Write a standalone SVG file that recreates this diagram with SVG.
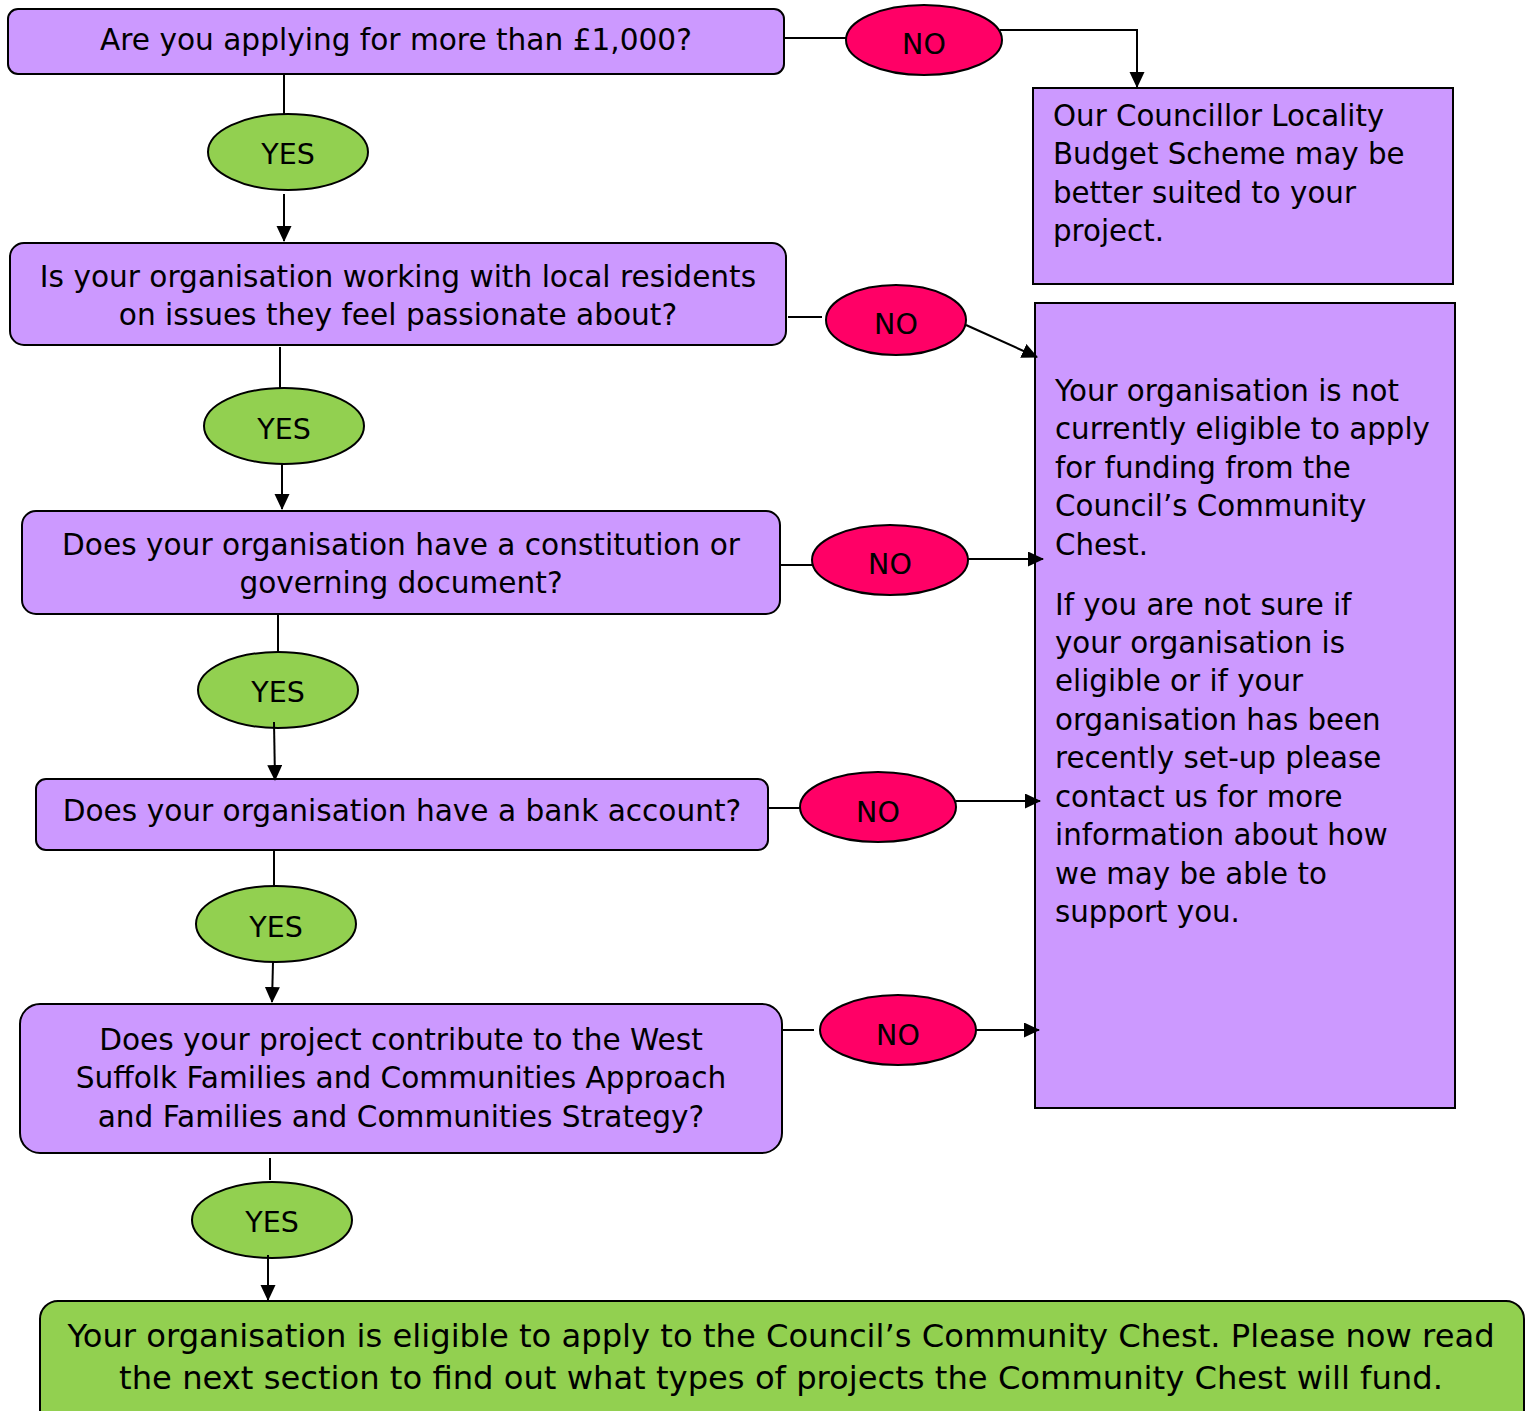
<svg xmlns="http://www.w3.org/2000/svg" width="1530" height="1411" viewBox="0 0 1530 1411">
<defs>
<marker id="ah" markerWidth="16" markerHeight="16" refX="15" refY="7.5" orient="auto" markerUnits="userSpaceOnUse">
<path d="M0,0 L16,7.5 L0,15 Z" fill="#000"/>
</marker>
<style>
.q{fill:#CC99FF;stroke:#000;stroke-width:2}
.no{fill:#FF0066;stroke:#000;stroke-width:2}
.yes{fill:#92D050;stroke:#000;stroke-width:2}
.fin{fill:#92D050;stroke:#000;stroke-width:2}
text{font-family:"DejaVu Sans","Verdana",sans-serif;font-size:29.6px;fill:#000}
.c{text-anchor:middle}
.e{font-size:28.5px}
.r{font-size:29.3px}
.big{font-size:32.2px}
.cn path{stroke:#000;stroke-width:2;fill:none}
.ar{marker-end:url(#ah)}
</style>
</defs>
<rect width="1530" height="1411" fill="#fff"/>

<g id="q1"><rect class="q" x="8" y="9" width="776" height="65" rx="10"/>
<text class="c" x="396" y="50">Are you applying for more than £1,000?</text></g>

<g id="q2"><rect class="q" x="10" y="243" width="776" height="102" rx="14"/>
<text class="c" x="398" y="287">Is your organisation working with local residents</text>
<text class="c" x="398" y="325">on issues they feel passionate about?</text></g>

<g id="q3"><rect class="q" x="22" y="511" width="758" height="103" rx="14"/>
<text class="c" x="401" y="555">Does your organisation have a constitution or</text>
<text class="c" x="401" y="593">governing document?</text></g>

<g id="q4"><rect class="q" x="36" y="779" width="732" height="71" rx="10"/>
<text class="c" x="402" y="821">Does your organisation have a bank account?</text></g>

<g id="q5"><rect class="q" x="20" y="1004" width="762" height="149" rx="20"/>
<text class="c" x="401" y="1050">Does your project contribute to the West</text>
<text class="c" x="401" y="1088">Suffolk Families and Communities Approach</text>
<text class="c" x="401" y="1127">and Families and Communities Strategy?</text></g>

<g id="result"><rect class="fin" x="40" y="1301" width="1484" height="130" rx="18"/>
<text class="c big" x="781" y="1347">Your organisation is eligible to apply to the Council’s Community Chest. Please now read</text>
<text class="c big" x="781" y="1389">the next section to find out what types of projects the Community Chest will fund.</text></g>

<g id="locality"><rect class="q" x="1033" y="88" width="420" height="196"/>
<text class="r" x="1053" y="126">Our Councillor Locality</text>
<text class="r" x="1053" y="164">Budget Scheme may be</text>
<text class="r" x="1053" y="203">better suited to your</text>
<text class="r" x="1053" y="241">project.</text></g>

<g id="noteligible"><rect class="q" x="1035" y="303" width="420" height="805"/>
<text class="r" x="1055" y="401">Your organisation is not</text>
<text class="r" x="1055" y="439">currently eligible to apply</text>
<text class="r" x="1055" y="478">for funding from the</text>
<text class="r" x="1055" y="516">Council’s Community</text>
<text class="r" x="1055" y="555">Chest.</text>
<text class="r" x="1055" y="615">If you are not sure if</text>
<text class="r" x="1055" y="653">your organisation is</text>
<text class="r" x="1055" y="691">eligible or if your</text>
<text class="r" x="1055" y="730">organisation has been</text>
<text class="r" x="1055" y="768">recently set-up please</text>
<text class="r" x="1055" y="807">contact us for more</text>
<text class="r" x="1055" y="845">information about how</text>
<text class="r" x="1055" y="884">we may be able to</text>
<text class="r" x="1055" y="922">support you.</text></g>

<g id="no1"><ellipse class="no" cx="924" cy="40" rx="78" ry="35"/><text class="c e" x="924" y="54">NO</text></g>
<g id="yes1"><ellipse class="yes" cx="288" cy="152" rx="80" ry="38"/><text class="c e" x="288" y="164">YES</text></g>
<g id="no2"><ellipse class="no" cx="896" cy="320" rx="70" ry="35"/><text class="c e" x="896" y="334">NO</text></g>
<g id="yes2"><ellipse class="yes" cx="284" cy="426" rx="80" ry="38"/><text class="c e" x="284" y="439">YES</text></g>
<g id="no3"><ellipse class="no" cx="890" cy="560" rx="78" ry="35"/><text class="c e" x="890" y="574">NO</text></g>
<g id="yes3"><ellipse class="yes" cx="278" cy="690" rx="80" ry="38"/><text class="c e" x="278" y="702">YES</text></g>
<g id="no4"><ellipse class="no" cx="878" cy="807" rx="78" ry="35"/><text class="c e" x="878" y="822">NO</text></g>
<g id="yes4"><ellipse class="yes" cx="276" cy="924" rx="80" ry="38"/><text class="c e" x="276" y="937">YES</text></g>
<g id="no5"><ellipse class="no" cx="898" cy="1030" rx="78" ry="35"/><text class="c e" x="898" y="1045">NO</text></g>
<g id="yes5"><ellipse class="yes" cx="272" cy="1220" rx="80" ry="38"/><text class="c e" x="272" y="1232">YES</text></g>

<g id="connectors" class="cn">
<path d="M284,74 V114"/>
<path class="ar" d="M284,194 V241"/>
<path d="M784,38 H846"/>
<path class="ar" d="M1000,30 H1137 V87"/>
<path d="M788,317 H822"/>
<path class="ar" d="M966,325 L1037,357"/>
<path d="M280,347 V388"/>
<path class="ar" d="M282,464 V509"/>
<path d="M780,565 H812"/>
<path class="ar" d="M968,559 H1043"/>
<path d="M278,614 V652"/>
<path class="ar" d="M274,722 L275,780"/>
<path d="M768,808 H800"/>
<path class="ar" d="M956,801 H1040"/>
<path d="M274,850 V886"/>
<path class="ar" d="M273,962 L272,1002"/>
<path d="M782,1030 H814"/>
<path class="ar" d="M976,1030 H1039"/>
<path d="M270,1158 V1180"/>
<path class="ar" d="M268,1255 V1300"/>
</g>
</svg>
